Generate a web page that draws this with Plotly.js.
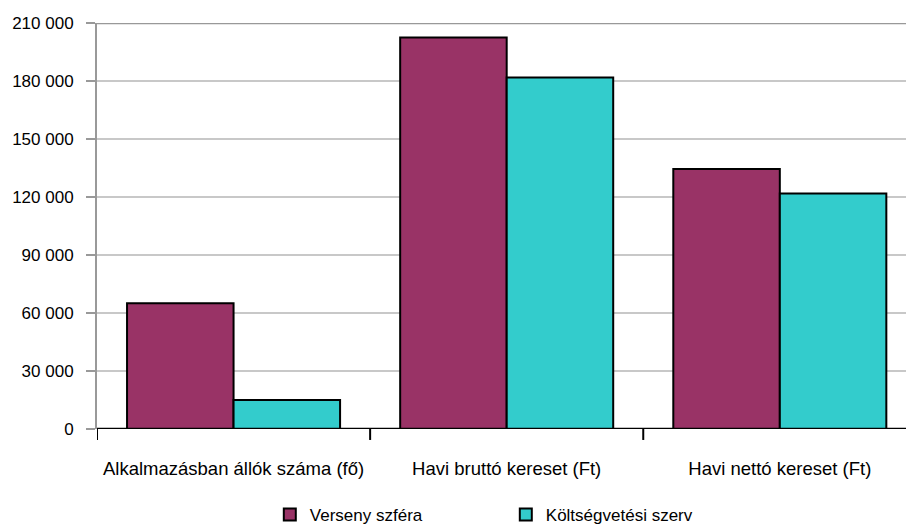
<!DOCTYPE html>
<html><head><meta charset="utf-8">
<script src="https://cdn.plot.ly/plotly-3.0.1.min.js"></script>
<style>html,body{margin:0;padding:0;background:#fff}#c{width:906px;height:526px}</style>
</head><body><div id="c"></div>
<script>
const categories = ["Alkalmazásban állók száma (fő)", "Havi bruttó kereset (Ft)", "Havi nettó kereset (Ft)"];
const seriesNames = ["Verseny szféra", "Költségvetési szerv"];
const versenyValues = [65000, 202500, 134500];
const koltsegvetesiValues = [15000, 181800, 121800];
const tickValues = [0, 30000, 60000, 90000, 120000, 150000, 180000, 210000];

const font = {family: "Liberation Sans, Arial, sans-serif", size: 17, color: "#000"};
const xfont = {family: "Liberation Sans, Arial, sans-serif", size: 18.5, color: "#000"};
const traces = [
  {type: "bar", name: seriesNames[0], x: categories, y: versenyValues,
   marker: {color: "#993366", line: {color: "#000", width: 2}}},
  {type: "bar", name: seriesNames[1], x: categories, y: koltsegvetesiValues,
   marker: {color: "#33CCCC", line: {color: "#000", width: 2}}}
];
const layout = {
  width: 906, height: 526,
  margin: {l: 97, r: 0, t: 23, b: 97, autoexpand: false},
  separators: ", ",
  font: font,
  barmode: "group", bargap: 0.22, bargroupgap: 0,
  showlegend: true,
  legend: {orientation: "h", x: 0.2136, xanchor: "left", yref: "container", y: 0.021, yanchor: "middle",
           font: font, entrywidth: 191, entrywidthmode: "pixels", itemwidth: 30},
  xaxis: {range: [-0.5, 2.462], showline: false, ticks: "", zeroline: false,
          showgrid: false, tickfont: xfont, automargin: false, ticklabelstandoff: 26},
  yaxis: {range: [0, 210000], tickvals: tickValues, tickformat: ",", ticks: "outside",
          ticklen: 9, tickcolor: "#999", tickwidth: 1.5, showline: true, linecolor: "#999", linewidth: 2,
          showgrid: true, gridcolor: "#c8c8c8", gridwidth: 1.5, zeroline: false, tickfont: font,
          automargin: false, ticklabelstandoff: 9},
  shapes: [
    {type: "line", xref: "paper", yref: "y", x0: 0, x1: 1, y0: 210000, y1: 210000,
     line: {color: "#999", width: 2.5}},
    {type: "line", xref: "paper", yref: "y", x0: 0, x1: 1, y0: 0, y1: 0,
     line: {color: "#000", width: 2.5}, layer: "above"},
    {type: "line", xref: "x", yref: "paper", x0: -0.5, x1: -0.5, y0: 0, y1: -0.027, line: {color: "#000", width: 2}},
    {type: "line", xref: "x", yref: "paper", x0: 0.5, x1: 0.5, y0: 0, y1: -0.027, line: {color: "#000", width: 2}},
    {type: "line", xref: "x", yref: "paper", x0: 1.5, x1: 1.5, y0: 0, y1: -0.027, line: {color: "#000", width: 2}}
  ]
};
Plotly.newPlot("c", traces, layout, {displayModeBar: false, staticPlot: true});
</script></body></html>
